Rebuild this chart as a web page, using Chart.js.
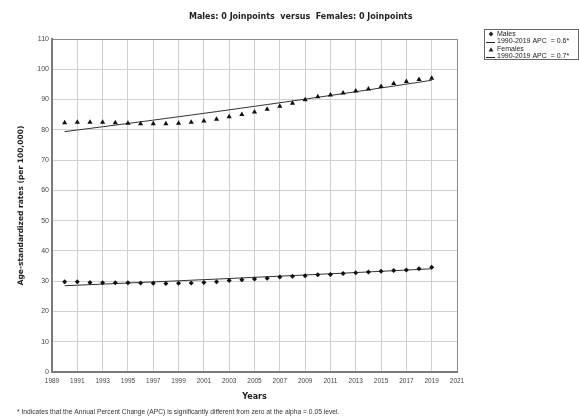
<!DOCTYPE html>
<html>
<head>
<meta charset="utf-8">
<script src="https://cdn.jsdelivr.net/npm/chart.js@4/dist/chart.umd.min.js"></script>
<style>
  html, body { margin: 0; padding: 0; background: #fff; }
  canvas { display: block; }
</style>
</head>
<body>
<canvas id="apc" width="579" height="417"></canvas>
<script>
// observed age-standardized rates, 1990-2019
const years = [1990, 1991, 1992, 1993, 1994, 1995, 1996, 1997, 1998, 1999,
  2000, 2001, 2002, 2003, 2004, 2005, 2006, 2007, 2008, 2009,
  2010, 2011, 2012, 2013, 2014, 2015, 2016, 2017, 2018, 2019];

const malesObserved = [29.8, 29.8, 29.6, 29.5, 29.5, 29.5, 29.4, 29.3, 29.2, 29.3,
  29.4, 29.6, 29.8, 30.2, 30.5, 30.7, 31.0, 31.4, 31.6, 31.8,
  32.1, 32.2, 32.5, 32.8, 33.0, 33.3, 33.5, 33.7, 34.1, 34.6];
const malesModel = [28.50, 28.68, 28.85, 29.03, 29.21, 29.39, 29.58, 29.76, 29.94, 30.13,
  30.32, 30.50, 30.69, 30.88, 31.08, 31.27, 31.46, 31.66, 31.85, 32.05,
  32.25, 32.45, 32.65, 32.85, 33.06, 33.26, 33.47, 33.68, 33.88, 34.10];

const femalesObserved = [82.3, 82.5, 82.5, 82.5, 82.3, 82.2, 82.0, 82.0, 82.0, 82.2,
  82.5, 82.9, 83.5, 84.3, 85.1, 85.9, 86.8, 87.8, 88.8, 89.9,
  90.9, 91.5, 92.2, 92.8, 93.5, 94.3, 95.3, 96.0, 96.6, 97.0];
const femalesModel = [79.40, 79.93, 80.47, 81.01, 81.55, 82.10, 82.65, 83.20, 83.76, 84.32,
  84.88, 85.45, 86.02, 86.60, 87.18, 87.76, 88.35, 88.94, 89.54, 90.14,
  90.74, 91.35, 91.97, 92.58, 93.20, 93.83, 94.45, 95.09, 95.72, 96.37];

const legendLabels = ['Males', '1990-2019 APC  = 0.6*', 'Females', '1990-2019 APC  = 0.7*'];
const chartTitle = 'Males: 0 Joinpoints  versus  Females: 0 Joinpoints';
const footnote = '* Indicates that the Annual Percent Change (APC) is significantly different from zero at the alpha = 0.05 level.';

function pts(ys) { return years.map((x, i) => ({ x, y: ys[i] })); }

Chart.defaults.animation = false;
Chart.defaults.font.family = '"Liberation Sans", Arial, sans-serif';

// title, footnote and the boxed legend on the right
const decorations = {
  id: 'decorations',
  afterDraw(chart) {
    const ctx = chart.ctx;
    ctx.save();
    ctx.fillStyle = '#222';
    ctx.font = 'bold 8px "DejaVu Sans", sans-serif';
    ctx.textAlign = 'left';
    ctx.textBaseline = 'middle';
    ctx.fillText(chartTitle, 189, 17);

    ctx.font = '6.7px "Liberation Sans", Arial, sans-serif';
    ctx.fillStyle = '#333';
    ctx.fillText(footnote, 17, 412);

    // legend box
    ctx.strokeStyle = '#666';
    ctx.lineWidth = 1;
    ctx.strokeRect(484.5, 29.5, 94, 30);
    ctx.fillStyle = '#222';
    ctx.font = '7px "Liberation Sans", Arial, sans-serif';
    const rows = [34, 41.5, 49.5, 56.5];
    rows.forEach((y, i) => ctx.fillText(legendLabels[i], 497, y));
    Chart.helpers.drawPoint(ctx, { pointStyle: 'rectRot', radius: 2.4, borderWidth: 0 }, 491, 34);
    Chart.helpers.drawPoint(ctx, { pointStyle: 'triangle', radius: 2.8, borderWidth: 0 }, 491, 50);
    ctx.strokeStyle = '#222';
    ctx.beginPath();
    ctx.moveTo(486, 42.5); ctx.lineTo(495, 42.5);
    ctx.moveTo(486, 57.5); ctx.lineTo(495, 57.5);
    ctx.stroke();
    ctx.restore();
  }
};

new Chart(document.getElementById('apc'), {
  type: 'scatter',
  data: {
    datasets: [
      { label: 'Males', data: pts(malesObserved), pointStyle: 'rectRot', pointRadius: 2.5,
        backgroundColor: '#111', borderColor: '#111', borderWidth: 0 },
      { label: 'Males APC', data: pts(malesModel), showLine: true, pointRadius: 0,
        borderColor: '#333', borderWidth: 1 },
      { label: 'Females', data: pts(femalesObserved), pointStyle: 'triangle', pointRadius: 3,
        backgroundColor: '#111', borderColor: '#111', borderWidth: 0 },
      { label: 'Females APC', data: pts(femalesModel), showLine: true, pointRadius: 0,
        borderColor: '#333', borderWidth: 1 }
    ]
  },
  options: {
    responsive: false,
    layout: { padding: { left: 0, top: 39, right: 122, bottom: 0 } },
    plugins: { legend: { display: false }, tooltip: { enabled: false } },
    scales: {
      x: {
        type: 'linear', min: 1989, max: 2021,
        afterFit(scale) { scale.height = 45; },
        ticks: { stepSize: 2, padding: 5, color: '#444', font: { size: 6.5 },
          callback: v => String(v) },
        grid: { drawTicks: false, lineWidth: 1,
          color: c => (c.tick && c.tick.value === 2021 ? '#8a8a8a' : '#d0d0d0') },
        border: { color: '#7a7a7a', width: 2 },
        title: { display: true, text: 'Years', color: '#222', padding: { top: 0, bottom: 15 },
          font: { family: '"DejaVu Sans", sans-serif', size: 8, weight: 'bold' } }
      },
      y: {
        min: 0, max: 110,
        afterFit(scale) { scale.width = 52; },
        ticks: { stepSize: 10, padding: 3, color: '#444', font: { size: 7 } },
        grid: { drawTicks: false, lineWidth: 1,
          color: c => (c.tick && c.tick.value === 110 ? '#8a8a8a' : '#d0d0d0') },
        border: { color: '#7a7a7a', width: 2 },
        title: { display: true, text: 'Age-standardized rates (per 100,000)', color: '#222',
          padding: { top: 17, bottom: 0 },
          font: { family: '"DejaVu Sans", sans-serif', size: 7.5, weight: 'bold' } }
      }
    }
  },
  plugins: [decorations]
});
</script>
</body>
</html>
